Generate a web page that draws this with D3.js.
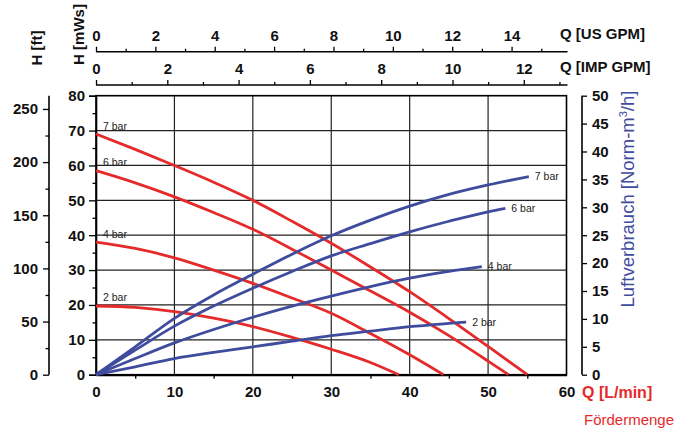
<!DOCTYPE html>
<html><head><meta charset="utf-8">
<script src="https://cdn.jsdelivr.net/npm/d3@7"></script>
<style>
body{margin:0;background:#fff;}
svg{display:block;font-family:"Liberation Sans",Arial,sans-serif;}
</style></head>
<body>
<svg id="c" width="685" height="432"></svg>
<script>
// ---- data ----
const pressureLabels = ["7 bar", "6 bar", "4 bar", "2 bar"];
// head curves (Q L/min -> H mWs)
const headQ7 = [0,5,10,15,20,25,30,35,40,45,50,55];
const headH7 = [69,64.6,60,55.2,50,44,37.7,30.9,23.8,16.1,8.1,0];
const headQ6 = [0,5,10,15,20,25,30,35,40,45,50,52.6];
const headH6 = [58.5,55,51,46.5,41.7,36,30,24,17.9,11.2,3.9,0];
const headQ4 = [0,5,10,15,20,25,30,35,40,44.3];
const headH4 = [38,36.2,33.5,30,26.2,22,17.6,11.8,5.7,0];
const headQ2 = [0,5,10,15,20,25,30,35,38.6];
const headH2 = [19.7,19.3,18.1,16.2,13.8,10.7,7.3,3.5,0];
// air consumption curves (Q L/min -> Norm-m3/h)
const airQ7 = [0,5,10,15,20,25,30,35,40,45,50,55.2];
const airV7 = [0,5,10.1,14.3,18,21.6,24.9,27.7,30.2,32.3,34,35.5];
const airQ6 = [0,5,10,15,20,25,30,35,40,45,50,52.2];
const airV6 = [0,4.4,8.7,12.3,15.5,18.5,21.3,23.5,25.6,27.5,29.2,29.8];
const airQ4 = [0,5,10,15,20,25,30,35,40,45,49.2];
const airV4 = [0,2.9,5.7,8.1,10.3,12.3,14.1,15.8,17.3,18.5,19.35];
const airQ2 = [0,5,10,15,20,25,30,35,40,45,47.2];
const airV2 = [0,1.4,2.9,4.0,5.0,6.0,7.0,7.8,8.6,9.2,9.44];
// axis ticks
const qTicks = [0,10,20,30,40,50,60];
const hTicks = [0,10,20,30,40,50,60,70,80];
const ftTicks = [0,50,100,150,200,250];
const airTicks = [0,5,10,15,20,25,30,35,40,45,50];
const usTicks = [0,2,4,6,8,10,12,14];
const impTicks = [0,2,4,6,8,10,12];

const RED = "#e42a2a", BLUE = "#3f4c9e";
const svg = d3.select("#c");

const X0 = 96, X1 = 566.5, Y0 = 374.7, Y1 = 95.7;
const x = d3.scaleLinear().domain([0,60]).range([X0,X1]);
const y = d3.scaleLinear().domain([0,80]).range([Y0,Y1]);
const yFt = d3.scaleLinear().domain([0,80*3.28084]).range([Y0,Y1]);
const yAir = d3.scaleLinear().domain([0,50]).range([Y0,Y1]);
const xUS = d3.scaleLinear().domain([0,60/3.78541]).range([X0,X1]);
const xIMP = d3.scaleLinear().domain([0,60/4.54609]).range([X0,X1]);

const bold = "bold";
function styleAxis(g, size){
  g.select(".domain").attr("stroke","#000").attr("stroke-width",1.6);
  g.selectAll(".tick line").attr("stroke","#000").attr("stroke-width",1.3);
  g.selectAll(".tick text").attr("font-size",size||15).attr("font-weight",bold).attr("fill","#111")
   .attr("font-family","'Liberation Sans',Arial,sans-serif");
}

// grid
const grid = svg.append("g");
grid.selectAll("line.v").data(qTicks.slice(1,-1)).join("line")
  .attr("x1",d=>x(d)).attr("x2",d=>x(d)).attr("y1",Y1).attr("y2",Y0)
  .attr("stroke","#222").attr("stroke-width",1.2);
grid.selectAll("line.h").data(hTicks.slice(1,-1)).join("line")
  .attr("x1",X0).attr("x2",X1).attr("y1",d=>y(d)).attr("y2",d=>y(d))
  .attr("stroke","#222").attr("stroke-width",1.2);
svg.append("rect").attr("x",X0).attr("y",Y1).attr("width",X1-X0).attr("height",Y0-Y1)
  .attr("fill","none").attr("stroke","#000").attr("stroke-width",1.6);

// bottom axis
const gB = svg.append("g").attr("transform",`translate(0,${Y0})`)
  .call(d3.axisBottom(x).tickValues(d3.range(0,61,5)).tickSize(0).tickPadding(12)
    .tickFormat(d=>d%10===0?d:""));
styleAxis(gB);
gB.select(".domain").attr("stroke-width",2.2);
gB.selectAll(".tick line").attr("y2",d=>d%10===0?0:4);

// left H mWs axis
const gL = svg.append("g").attr("transform",`translate(${X0},0)`)
  .call(d3.axisLeft(y).tickValues(d3.range(0,81,5)).tickSize(7).tickPadding(4)
    .tickFormat(d=>d%10===0?d:""));
styleAxis(gL);
gL.selectAll(".tick line").attr("x2",d=>d%10===0?-7:-3.5);

// left ft axis
const gF = svg.append("g").attr("transform",`translate(49,0)`)
  .call(d3.axisLeft(yFt).tickValues(d3.range(0,261,25)).tickSize(6).tickPadding(5)
    .tickFormat(d=>d%50===0?d:""));
styleAxis(gF);
gF.select(".domain").attr("d",`M0,${Y0}V${Y1}`);
gF.selectAll(".tick line").attr("x2",d=>d%50===0?-6:-3.5);

// right air axis
const gR = svg.append("g").attr("transform",`translate(582,0)`)
  .call(d3.axisRight(yAir).tickValues(airTicks).tickSize(5).tickPadding(5));
styleAxis(gR);
gR.select(".domain").attr("d",`M0,${Y0}V${Y1}`);

// top US GPM axis
const gUS = svg.append("g").attr("transform",`translate(0,51.7)`)
  .call(d3.axisTop(xUS).tickValues(d3.range(0,16,1)).tickSize(5).tickPadding(6)
    .tickFormat(d=>d%2===0?d:""));
styleAxis(gUS);
gUS.select(".domain").attr("d",`M${X0},0H${X1+1}`);
gUS.selectAll(".tick line").attr("y2",d=>d%2===0?-5:-3);

// top IMP GPM axis
const gIMP = svg.append("g").attr("transform",`translate(0,85)`)
  .call(d3.axisTop(xIMP).tickValues(d3.range(0,14,1)).tickSize(5).tickPadding(6)
    .tickFormat(d=>d%2===0?d:""));
styleAxis(gIMP);
gIMP.select(".domain").attr("d",`M${X0},0H${X1+1}`);
gIMP.selectAll(".tick line").attr("y2",d=>d%2===0?-5:-3);

// titles
const T = (tx,ty,txt,opt={}) => {
  const t = svg.append("text").attr("x",tx).attr("y",ty).text(txt)
    .attr("font-size",opt.size||15).attr("font-weight",opt.weight||"bold")
    .attr("fill",opt.fill||"#111");
  if(opt.anchor) t.attr("text-anchor",opt.anchor);
  if(opt.rot) t.attr("transform",`rotate(-90,${tx},${ty})`);
  return t;
};
T(560,38.5,"Q [US GPM]");
T(560,72,"Q [IMP GPM]");
T(41.5,48,"H [ft]",{rot:true,anchor:"middle"});
T(83.5,34.5,"H [mWs]",{rot:true,anchor:"middle"});
T(582,398,"Q [L/min]",{fill:RED,size:16});
T(584,425,"Fördermenge",{fill:RED,weight:"normal",size:15});
const lt = svg.append("text").attr("transform","translate(634,199) rotate(-90)")
  .attr("text-anchor","middle").attr("font-size",18.5).attr("fill",BLUE)
  .attr("font-family","'Liberation Sans',Arial,sans-serif");
lt.append("tspan").text("Luftverbrauch [Norm-m");
lt.append("tspan").text("3").attr("font-size",11).attr("dy",-7);
lt.append("tspan").text("/h]").attr("dy",7);

// curves
const headSeries = [[headQ7,headH7],[headQ6,headH6],[headQ4,headH4],[headQ2,headH2]];
const airSeries = [[airQ7,airV7],[airQ6,airV6],[airQ4,airV4],[airQ2,airV2]];
const lineH = d3.line().x(d=>x(d[0])).y(d=>y(d[1])).curve(d3.curveMonotoneX);
const lineA = d3.line().x(d=>x(d[0])).y(d=>yAir(d[1])).curve(d3.curveMonotoneX);

headSeries.forEach(([qs,hs],i)=>{
  const pts = qs.map((q,j)=>[q,hs[j]]);
  svg.append("path").attr("d",lineH(pts)).attr("fill","none").attr("stroke",RED).attr("stroke-width",2.8);
  svg.append("text").attr("x",x(0)+7).attr("y",y(hs[0])-4.5).text(pressureLabels[i])
    .attr("font-size",10.5).attr("fill","#222");
});
airSeries.forEach(([qs,vs],i)=>{
  const pts = qs.map((q,j)=>[q,vs[j]]);
  svg.append("path").attr("d",lineA(pts)).attr("fill","none").attr("stroke",BLUE).attr("stroke-width",2.8);
  const last = pts[pts.length-1];
  svg.append("text").attr("x",x(last[0])+6).attr("y",yAir(last[1])+3.5).text(pressureLabels[i])
    .attr("font-size",10.5).attr("fill","#222");
});
</script>
</body></html>
